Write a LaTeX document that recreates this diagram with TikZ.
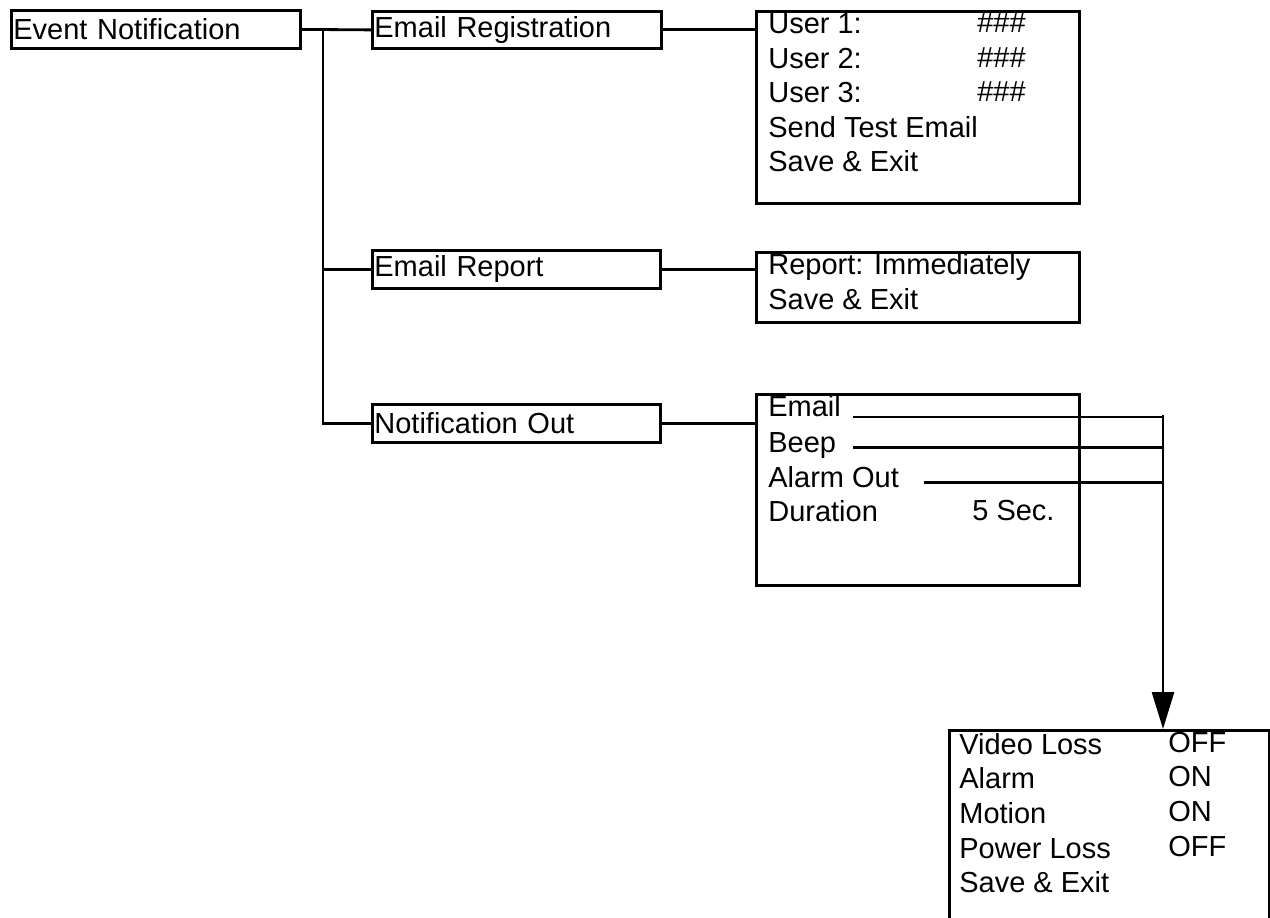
\documentclass[tikz,border=0pt]{standalone}
\usepackage{fontspec}
\setmainfont{Liberation Sans}
\usetikzlibrary{arrows.meta}

\tikzset{
	menu/.style={draw, line width=1.6pt, anchor=north west, inner xsep=0.04cm, inner ysep=0pt, align=left},
	panel/.style={draw, line width=1.6pt, anchor=north west, inner sep=0pt},
	entry/.style={anchor=base west, inner sep=0pt},
	wire/.style={line width=1.6pt}
}

\begin{document}
\begin{tikzpicture}[x=0.02cm, y=-0.02cm, font=\fontsize{16.5}{20}\selectfont]
		\useasboundingbox (0,0) rectangle (1270,918);
		\clip (0,0) rectangle (1270,918);
		% menu column
		\node[menu, text width=5.70cm, minimum height=0.76cm] (evt) at (10,9) {Event Notification};
		\node[menu, text width=5.70cm, minimum height=0.74cm] (reg) at (371,10) {Email Registration};
		\node[menu, text width=5.68cm, minimum height=0.76cm] (rep) at (371,249) {Email Report};
		\node[menu, text width=5.68cm, minimum height=0.76cm] (nout) at (371,403) {Notification Out};
		% sub menus
		\node[panel, minimum width=6.46cm, minimum height=3.84cm] (regd) at (755,10) {};
		\node[entry] (u1) at (768,34) {User 1:};
		\node[entry] (u1v) at (977,33) {\#\#\#};
		\node[entry] (u2) at (768,68.5) {User 2:};
		\node[entry] (u2v) at (977,67.5) {\#\#\#};
		\node[entry] (u3) at (768,103) {User 3:};
		\node[entry] (u3v) at (977,102) {\#\#\#};
		\node[entry] (test) at (768,137.5) {Send Test Email};
		\node[entry] (regsave) at (768,172) {Save \& Exit};
		\node[panel, minimum width=6.46cm, minimum height=1.40cm] (repd) at (755,251) {};
		\node[entry] (when) at (768,275) {Report: Immediately};
		\node[entry] (repsave) at (768,310) {Save \& Exit};
		\node[panel, minimum width=6.46cm, minimum height=3.82cm] (noutd) at (755,393) {};
		\node[entry] (email) at (768,417) {Email};
		\node[entry] (beep) at (768,452) {Beep};
		\node[entry] (aout) at (768,487) {Alarm Out};
		\node[entry] (dur) at (768,521) {Duration};
		\node[entry] (durv) at (972,520) {5 Sec.};
		% event list
		\node[panel, minimum width=6.40cm, minimum height=4.40cm] (evlist) at (948,729) {};
		\node[entry] (vloss) at (959,754) {Video Loss};
		\node[entry] (vlossv) at (1168,752) {OFF};
		\node[entry] (alarm) at (959,788) {Alarm};
		\node[entry] (alarmv) at (1168,786) {ON};
		\node[entry] (motion) at (959,823) {Motion};
		\node[entry] (motionv) at (1168,821) {ON};
		\node[entry] (ploss) at (959,858) {Power Loss};
		\node[entry] (plossv) at (1168,856) {OFF};
		\node[entry] (evsave) at (959,892) {Save \& Exit};
		% connectors
		\coordinate (trunk) at (323,28);
		\coordinate (bus) at (1163,415);
		\draw[wire] (evt.east) -- (reg.west);
		\draw[wire] (trunk) |- (rep.west);
		\draw[wire] (trunk) |- (nout.west);
		\draw[wire] (reg.east) -- (reg.east -| regd.west);
		\draw[wire] (rep.east) -- (rep.east -| repd.west);
		\draw[wire] (nout.east) -- (nout.east -| noutd.west);
		\draw[wire] ([xshift=0.24cm]email.base east) -- (email.base east -| bus);
		\draw[wire] ([xshift=0.34cm]beep.mid east) -- (beep.mid east -| bus);
		\draw[wire] ([xshift=0.50cm]aout.mid east) -- (aout.mid east -| bus);
		\draw[wire, -{Triangle[length=0.74cm, width=0.44cm]}] (bus) -- (bus |- evlist.north);
	\end{tikzpicture}
\end{document}
